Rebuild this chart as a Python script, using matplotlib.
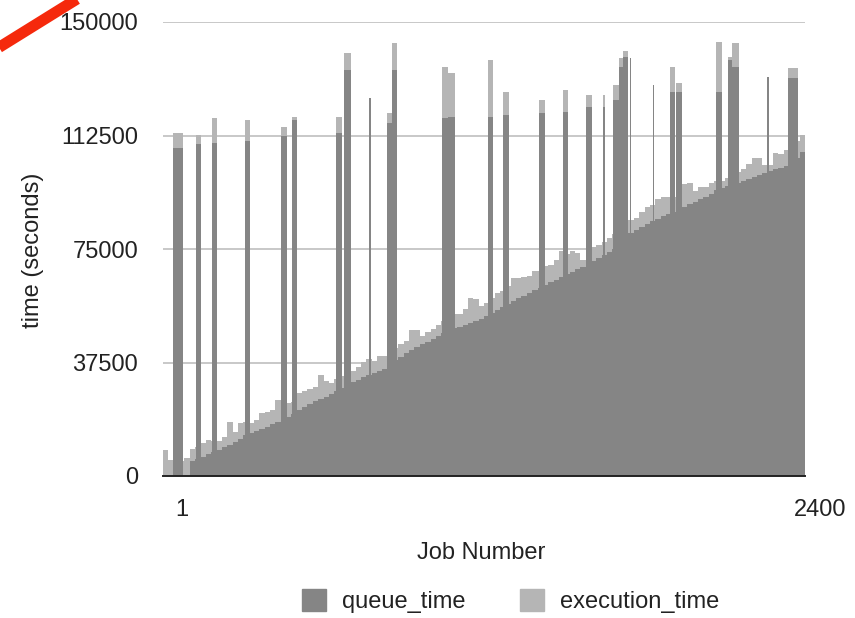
import numpy as np
import matplotlib
matplotlib.use("Agg")
import matplotlib.pyplot as plt
from matplotlib.patches import Patch
from matplotlib.lines import Line2D

plt.rcParams['font.family'] = ['Liberation Sans', 'DejaVu Sans']

# queue / execution time per block of 20 jobs (seconds)
block_size = 20
queue_blocks = [0, 0, 0, 0, 0, 5000, 5600, 6300, 7300, 7900,
                8600, 9600, 10200, 11200, 12200, 13500, 14200, 14900, 15500, 16200,
                17200, 17800, 18500, 19500, 20500, 21800, 22800, 23800, 24800, 25400,
                26100, 27100, 28100, 29100, 30100, 31100, 31700, 32700, 33400, 34000,
                34700, 35400, 36000, 38300, 39300, 40600, 41600, 42600, 43600, 44300,
                45300, 46300, 47200, 47900, 48900, 49200, 49900, 50600, 51200, 51900,
                52900, 53900, 54800, 55800, 56800, 57800, 58800, 59500, 60500, 61500,
                62100, 63100, 64100, 64800, 65700, 66700, 67400, 68400, 69100, 70000,
                71000, 72000, 73000, 74000, 75000, 75700, 76300, 80300, 81300, 82300,
                83300, 84300, 84900, 85900, 86600, 87200, 88200, 88900, 89900, 90500,
                91500, 92200, 93200, 94500, 95200, 95800, 96500, 96800, 97500, 98100,
                98800, 99500, 100100, 100800, 101400, 101800, 102400, 103100, 105100, 107100]
exec_blocks = [8600, 5300, 5000, 5000, 6000, 4000, 4000, 4600, 4600, 3600,
               3000, 3300, 7600, 3300, 5300, 4300, 3300, 3600, 5300, 5000,
               4600, 7300, 5000, 4600, 4000, 5600, 5300, 5000, 4600, 7900,
               5300, 3600, 4000, 4000, 3600, 3600, 4300, 5000, 5300, 4000,
               5000, 4300, 4000, 4000, 4300, 4000, 6600, 5600, 2600, 3300,
               3300, 3600, 4000, 4000, 4600, 4300, 5300, 8300, 7300, 4300,
               4300, 5000, 5600, 5300, 6000, 7600, 6600, 6300, 5600, 6300,
               5600, 6300, 5600, 6600, 8600, 6600, 6900, 5300, 2300, 3000,
               4600, 4300, 4300, 4600, 5000, 5000, 4600, 4300, 4000, 5000,
               5600, 5300, 6600, 6300, 5600, 5000, 6300, 7600, 6900, 3600,
               4000, 3300, 3600, 3000, 2300, 2600, 3000, 3600, 4000, 5000,
               6300, 5600, 2600, 2000, 5300, 4600, 5300, 5000, 5600, 5600]

# jobs that waited far longer than their neighbours
spike_start = [37, 123, 183, 307, 441, 482, 646, 676, 770, 837, 856, 1043, 1065, 1215, 1271,
               1405, 1495, 1581, 1644, 1681, 1704, 1719, 1745, 1831, 1895, 1917, 2067, 2112,
               2127, 2257, 2335]
spike_width = [37, 19, 19, 19, 22, 19, 22, 26, 6, 19, 19, 22, 26, 19, 22,
               22, 19, 22, 8, 22, 15, 19, 6, 6, 19, 22, 22, 15,
               26, 8, 37]
spike_queue = [108400, 109700, 110000, 110700, 112300, 117600, 113300, 134100, 125000, 116600,
               134100, 118300, 118600, 118600, 119300, 119900, 120300, 121900, 122000, 124200,
               135100, 138400, 138100, 129200, 126900, 126900, 126900, 137400, 135100, 131800,
               131500]
spike_exec = [5000, 3000, 8300, 6900, 3000, 1000, 5300, 5700, 0, 3300,
              9000, 16800, 14500, 18800, 7600, 4300, 7300, 4000, 4000, 5000,
              3000, 2000, 0, 0, 8200, 3000, 16500, 1000, 8000, 0,
              3300]

n_jobs = 2400
y_ticks = [0, 37500, 75000, 112500, 150000]

dark = '#858585'
light = '#b5b5b5'

fig = plt.figure(figsize=(8.55, 6.18), dpi=100)
ax = fig.add_axes([163 / 855, 1 - 476 / 618, 642 / 855, 454 / 618])

edges = np.arange(0, n_jobs + 1, block_size)
q = np.append(queue_blocks, queue_blocks[-1])
total = q + np.append(exec_blocks, exec_blocks[-1])
ax.fill_between(edges, q, total, step='post', color=light, linewidth=0, zorder=2)
ax.fill_between(edges, 0, q, step='post', color=dark, linewidth=0, zorder=2)

ax.bar(spike_start, spike_queue, width=spike_width, align='edge', color=dark,
       linewidth=0, zorder=3)
ax.bar(spike_start, spike_exec, width=spike_width, bottom=spike_queue, align='edge',
       color=light, linewidth=0, zorder=3)

ax.set_xlim(0, n_jobs)
ax.set_ylim(0, 150000)
ax.set_yticks(y_ticks)
ax.set_yticklabels([str(t) for t in y_ticks])
ax.set_xticks([])
ax.tick_params(axis='y', length=0, pad=18, labelsize=17, labelcolor='#222222')
for t in y_ticks[1:]:
    ax.axhline(t, color='#c4c4c4', linewidth=1.3, zorder=1)
for side in ['left', 'right', 'top']:
    ax.spines[side].set_visible(False)
ax.spines['bottom'].set_color('#222222')
ax.spines['bottom'].set_linewidth(1.4)
ax.spines['bottom'].set_zorder(4)

ax.text(182 / 855, 1 - 510 / 618, '1', transform=fig.transFigure, ha='center', va='center',
        fontsize=17, color='#222222')
ax.text(820 / 855, 1 - 510 / 618, '2400', transform=fig.transFigure, ha='center', va='center',
        fontsize=17, color='#222222')
fig.text(481 / 855, 1 - 553 / 618, 'Job Number', ha='center', va='center', fontsize=17,
         color='#222222')
fig.text(33 / 855, 1 - 250 / 618, 'time (seconds)', ha='center', va='center', rotation=90,
         fontsize=17, color='#222222')

handles = [Patch(color=dark, label='queue_time'), Patch(color=light, label='execution_time')]
fig.legend(handles=handles, loc='center', bbox_to_anchor=(511 / 855, 1 - 601 / 618), ncol=2,
           frameon=False, fontsize=17, handlelength=1.0, handleheight=1.1, handletextpad=0.7,
           columnspacing=2.3, labelcolor='#222222')

# red stroke across the top-left corner
fig.add_artist(Line2D([-10 / 855, 85 / 855], [1 - 53 / 618, 1 + 6 / 618], transform=fig.transFigure,
                      color='#f5290c', linewidth=8, solid_capstyle='butt'))

fig.savefig('out.png', dpi=100)
